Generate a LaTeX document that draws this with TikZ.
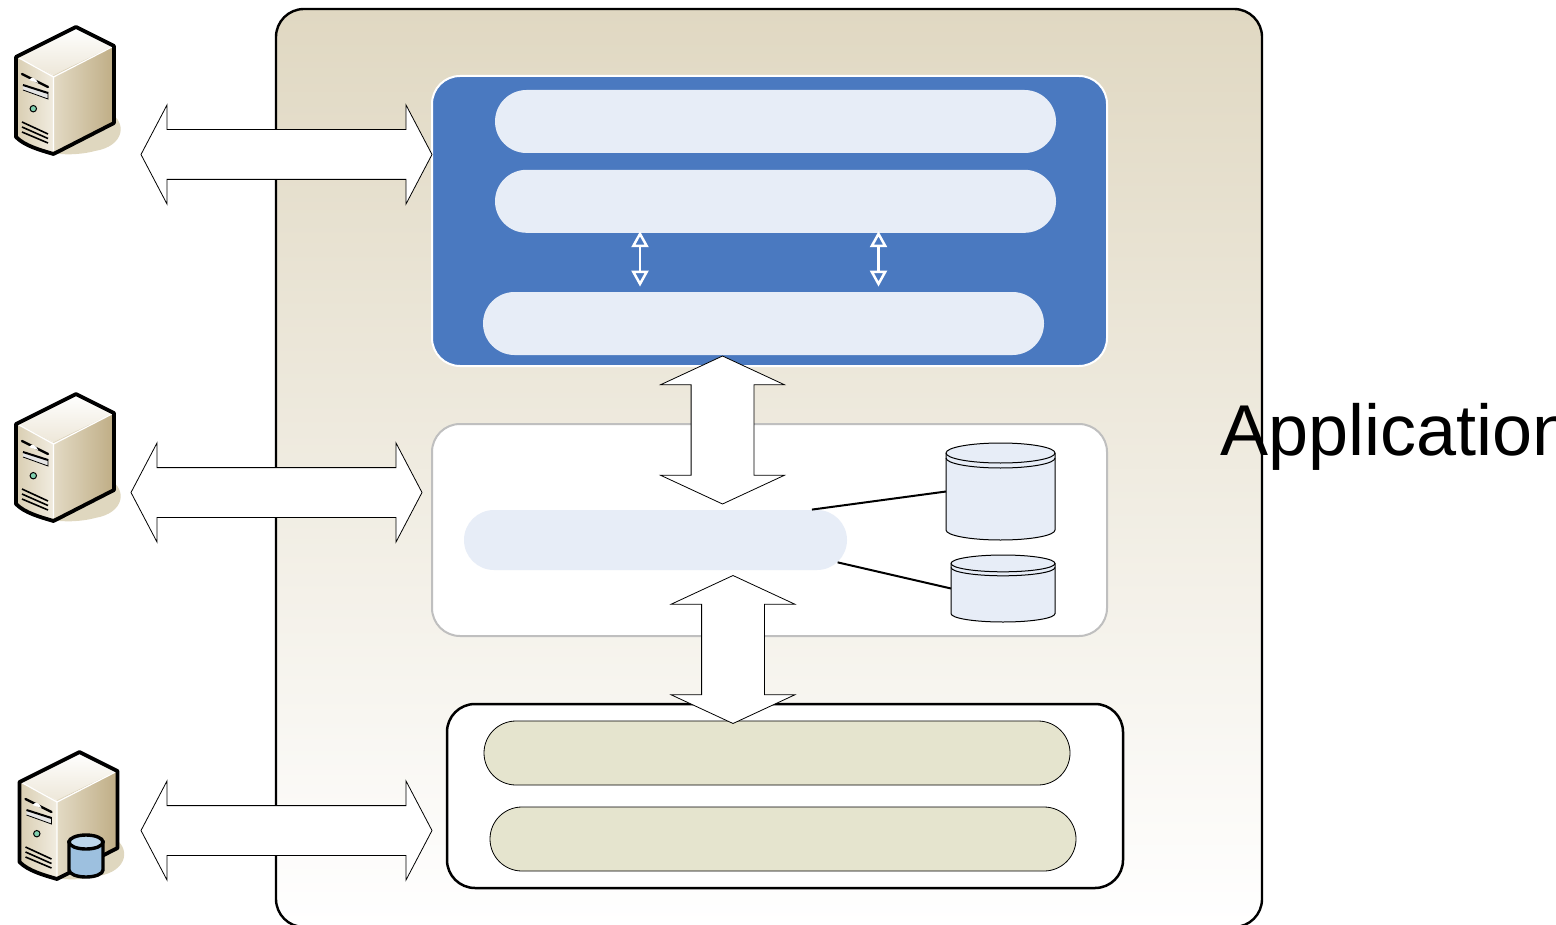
\documentclass[tikz,border=0pt]{standalone}
\usepackage{fontspec}
\setmainfont{Liberation Sans}
\usetikzlibrary{
    arrows.meta,
    positioning,
    shapes.arrows,
    shapes.misc
}
\definecolor{panelblue}{HTML}{4A79C0}
\definecolor{palepill}{HTML}{E7EDF7}
\definecolor{olivepill}{HTML}{E5E4CE}
\definecolor{sandtop}{HTML}{E0D8C2}
\definecolor{sandshadow}{HTML}{DFD7BF}
\definecolor{caselight}{HTML}{F1ECE0}
\definecolor{casemid}{HTML}{D9CEB2}
\definecolor{casedark}{HTML}{BFAD85}
\definecolor{dbside}{HTML}{9DC0DF}
\definecolor{dblid}{HTML}{BDD7EC}
\tikzset{
    pics/serverbox/.style = {code = {
        \fill[sandshadow] (110,113) .. controls (127,122) and (125,146) .. (95,151) .. controls (80,155) and (62,155) .. (53,153) -- cycle;
        \shade[top color=white, bottom color=caselight!85!casemid] (76,27) -- (114,46) -- (53.5,75) -- (16,57) -- cycle;
        \shade[left color=casemid, right color=caselight] (16,57) -- (53.5,75) -- (53.5,154) .. controls (40,150) and (25,146) .. (16,137) -- cycle;
        \shade[left color=casemid!60!caselight, middle color=caselight!90!casemid, right color=casedark] (53.5,75) -- (114,46) -- (114,123) -- (53.5,154) -- cycle;
        \draw[white, line width=.6pt] (19,58) -- (53.5,77) -- (112,47) (53.5,77) -- (53.5,151);
        \draw[line width=1.9pt, line join=round] (76,27) -- (114,46) -- (114,123) -- (53.5,154) .. controls (40,150) and (25,146) .. (16,137) -- (16,57) -- cycle;
        \draw[line width=1.2pt, line cap=round] (22,74) .. controls (30,78) and (40,83) .. (48,87);
        \fill[white] (29,80) .. controls (32,76) and (36,78) .. (38,83) -- cycle;
        \fill[white!80!gray] (23,85) -- (48,92) -- (48,99) -- (23,90) -- cycle;
        \draw[line width=1pt] (23,85) -- (48,93);
        \draw[line width=.4pt] (23,90) -- (48,99) -- (48,92);
        \draw[fill=green!25!teal!50!white, line width=.5pt] (33.3,108.7) circle[radius=1.6pt];
        \draw[line width=.8pt] (22,122) -- (48,134) (22,127) -- (48,138.5) (22,132) -- (48,143);
    }},
    paneltop/.style = {rectangle, rounded corners=14pt, fill=panelblue, draw=white, line width=1pt,
                       minimum width=337.5pt, minimum height=145pt},
    panelmid/.style = {rectangle, rounded corners=14pt, fill=white, draw=black!25, line width=1pt,
                       minimum width=337.5pt, minimum height=106pt},
    panellow/.style = {rectangle, rounded corners=14pt, fill=white, draw=black, line width=1.25pt,
                       minimum width=338pt, minimum height=92pt},
    palebar/.style = {rounded rectangle, fill=palepill, inner sep=0pt,
                      minimum width=280.5pt, minimum height=31.5pt},
    olivebar/.style = {rounded rectangle, fill=olivepill, draw=black, line width=.4pt, inner sep=0pt,
                       minimum width=293pt, minimum height=32pt},
    wideflow/.style = {double arrow, draw=black, fill=white, line width=.4pt, inner sep=0pt, inner ysep=12.25pt,
                       double arrow head extend=12.25pt, double arrow tip angle=124.6, double arrow head indent=0pt,
                       minimum height=145.5pt, minimum width=49pt},
    tallflow/.style = {double arrow, rotate=90, draw=black, fill=white, line width=.4pt, inner sep=0pt, inner ysep=15.5pt,
                       double arrow head extend=15.25pt, double arrow tip angle=130.2, double arrow head indent=0pt,
                       minimum height=74pt, minimum width=61.5pt},
    datastore/.style = {rectangle, outer sep=0pt, inner sep=0pt},
    drumline/.style = {draw=black, line width=.5pt},
    linkarrow/.style = {white, line width=1.25pt, {Triangle[open, length=8pt, width=8.5pt]}-{Triangle[open, length=8pt, width=8.5pt]}}
}
% node name, half width, lid height, gap under the lid
\newcommand{\drumshape}[4]{
    \draw[drumline, fill=palepill] ([yshift=-#3]#1.north west) -- ([yshift=#3]#1.south west)
        arc[start angle=180, end angle=360, x radius=#2, y radius=#3]
        -- ([yshift=-#3]#1.north east)
        arc[start angle=0, end angle=180, x radius=#2, y radius=#3] -- cycle;
    \draw[drumline] ([yshift=-#3]#1.north west) arc[start angle=180, end angle=360, x radius=#2, y radius=#3];
    \draw[drumline] ([yshift=-#3-#4]#1.north west) arc[start angle=180, end angle=360, x radius=#2, y radius=#3];
}
\begin{document}
\begin{tikzpicture}[x=.5pt, y=-.5pt]

    \useasboundingbox (0,0) rectangle (1556,925);

    \node[rectangle, rounded corners=14pt, top color=sandtop, bottom color=white, draw=black, line width=1.2pt,
          minimum width=493pt, minimum height=459pt] (appbox) at (769,468) {};
    \node[anchor=west, inner sep=0pt, font=\fontsize{36}{36}\selectfont] (applabel) at (1220,437) {Application};

    \pic at (0,0) {serverbox};
    \pic at (0,367) {serverbox};
    \pic at (3.5,725) {serverbox};

    % database on the last server
    \draw[line width=1.7pt, left color=dbside, middle color=white, right color=dbside]
        (69,842) -- (69,870) arc[start angle=180, end angle=360, x radius=8.5pt, y radius=3.5pt] -- (103,842) -- cycle;
    \draw[line width=1.7pt, fill=dblid] (86,842) ellipse[x radius=8.5pt, y radius=3.5pt];

    \node[paneltop] (webpanel) at (769.5,221) {};
    \node[palebar] (toppill) at (775.5,121.5) {};
    \node[palebar, below=8pt of toppill] (midpill) {};
    \node[palebar] (lowpill) at (763.5,323.5) {};

    \draw[linkarrow, shorten <=-1pt, shorten >=2.5pt] ([xshift=-67.75pt]midpill.south) -- ([xshift=-61.75pt]lowpill.north);
    \draw[linkarrow, shorten <=-1pt, shorten >=2.5pt] ([xshift=51.5pt]midpill.south) -- ([xshift=57.5pt]lowpill.north);

    \node[panelmid] (apppanel) at (769.5,530) {};
    \node[palebar, minimum width=191.5pt, minimum height=30pt] (corepill) at (655.5,540) {};
    \node[datastore, minimum width=54.5pt, minimum height=48.5pt] (dbone) at (1000.5,491.5) {};
    \node[datastore, minimum width=52pt, minimum height=33.5pt] (dbtwo) at (1003,588.5) {};
    \drumshape{dbone}{27.25pt}{5pt}{2.5pt}
    \drumshape{dbtwo}{26pt}{4.2pt}{2pt}

    \draw[line width=1pt] (corepill.11) -- (dbone.west);
    \draw[line width=1pt] (corepill.-7) -- (dbtwo.west);

    \node[panellow] (datapanel) at (785,796) {};
    \node[olivebar] (upstore) at (777,753) {};
    \node[olivebar] (downstore) at (783,839) {};

    \node[wideflow] (flowone) at (286.5,154.5) {};
    \node[wideflow] (flowtwo) at (276.5,492.5) {};
    \node[wideflow] (flowthree) at (286.5,830.5) {};
    \node[tallflow] (flowweb) at (722.5,430) {};
    \node[tallflow] (flowdata) at (733,649.5) {};

\end{tikzpicture}
\end{document}
